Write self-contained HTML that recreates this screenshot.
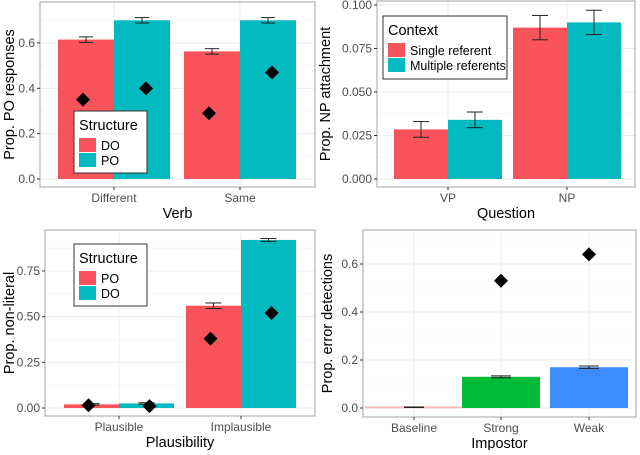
<!DOCTYPE html>
<html><head><meta charset="utf-8"><style>
body{margin:0;background:#fff;font-family:"Liberation Sans",sans-serif}
svg text{font-family:"Liberation Sans",sans-serif}
</style></head><body>
<svg id="c" width="640" height="450" xmlns="http://www.w3.org/2000/svg"></svg>
<script>
// Panel A data
const verbCats = ["Different","Same"];
const verbDO = [0.615,0.563];
const verbPO = [0.700,0.700];
const verbDOerr = [0.012,0.012];
const verbPOerr = [0.012,0.012];
const verbDOdia = [0.35,0.29];
const verbPOdia = [0.40,0.47];
const verbTicks = [0,0.2,0.4,0.6];
const verbTickLabels = ["0.0","0.2","0.4","0.6"];
// Panel B data
const qCats = ["VP","NP"];
const qSingle = [0.0285,0.087];
const qMulti = [0.034,0.090];
const qSingleErr = [0.0045,0.007];
const qMultiErr = [0.0045,0.007];
const qTicks = [0,0.025,0.05,0.075,0.1];
const qTickLabels = ["0.000","0.025","0.050","0.075","0.100"];
// Panel C data
const plCats = ["Plausible","Implausible"];
const plPO = [0.02,0.56];
const plDO = [0.025,0.92];
const plPOerr = [0.004,0.015];
const plDOerr = [0.004,0.008];
const plPOdia = [0.015,0.38];
const plDOdia = [0.01,0.52];
const plTicks = [0,0.25,0.5,0.75];
const plTickLabels = ["0.00","0.25","0.50","0.75"];
// Panel D data
const impCats = ["Baseline","Strong","Weak"];
const impVals = [0.003,0.13,0.17];
const impErr = [0.001,0.004,0.005];
const impDia = [null,0.53,0.64];
const impTicks = [0,0.2,0.4,0.6];
const impTickLabels = ["0.0","0.2","0.4","0.6"];

const RED="#F8535A", TEAL="#00BAC0";
const svg=document.getElementById('c');
const NS="http://www.w3.org/2000/svg";
function el(tag,attrs,parent,text){const e=document.createElementNS(NS,tag);for(const k in attrs)e.setAttribute(k,attrs[k]);if(text!==undefined)e.textContent=text;(parent||svg).appendChild(e);return e;}

function panel(p){
  const g=el('g',{});
  
  
  const ys=v=>p.y0-(v-0)*(p.y0-p.y1)/p.v1;
  for(let i=0;i<p.ticks.length;i++){
    const t=p.ticks[i];
    const m=t+(p.ticks[1]-p.ticks[0])/2;const ym=ys(m);if(ym>p.top)el('line',{x1:p.left,x2:p.right,y1:ym,y2:ym,stroke:'#f2f2f2','stroke-width':0.6},g);
    el('line',{x1:p.left,x2:p.right,y1:ys(t),y2:ys(t),stroke:'#ebebeb','stroke-width':1},g);
  }
  p.centers.forEach(cx=>el('line',{x1:cx,x2:cx,y1:p.top,y2:p.bottom,stroke:'#ebebeb','stroke-width':1},g));
  return {g,ys};
}
function axes(p,g,ys){
  el('rect',{x:p.left,y:p.top,width:p.right-p.left,height:p.bottom-p.top,fill:'none',stroke:'#b3b3b3','stroke-width':1.2},g);
  p.ticks.forEach((t,i)=>{
    const y=ys(t);
    el('line',{x1:p.left-3,x2:p.left,y1:y,y2:y,stroke:'#333','stroke-width':1},g);
    const tx=el('text',{x:p.left-5,y:y+4,'text-anchor':'end','font-size':12,fill:'#4d4d4d'},g,p.tickLabels[i]);
    
    
  });
  p.cats.forEach((c,i)=>{
    const x=p.centers[i];
    el('line',{x1:x,x2:x,y1:p.bottom,y2:p.bottom+3,stroke:'#333','stroke-width':1},g);
    const tx=el('text',{x:x,y:p.bottom+15,'text-anchor':'middle','font-size':12,fill:'#4d4d4d'},g,c);
    
    
  });
  const xt=el('text',{x:(p.left+p.right)/2,y:p.bottom+31,'text-anchor':'middle','font-size':14.5,fill:'#000'},g,p.xtitle);
  
  
  const cy=(p.top+p.bottom)/2;
  const yt=el('text',{x:p.ytx,y:cy,'text-anchor':'middle','font-size':14.5,fill:'#000',transform:`rotate(-90 ${p.ytx} ${cy})`},g,p.ytitle);
  
  
}
function bar(g,ys,x,w,v,fill,name){
  const r=el('rect',{x:x,y:ys(v),width:w,height:ys(0)-ys(v),fill:fill},g);
  
  
}
function err(g,ys,cx,v,e,hw,col){
  const a=ys(v+e),b=ys(v-e);
  el('line',{x1:cx,x2:cx,y1:a,y2:b,stroke:col||'#222','stroke-width':1},g);
  el('line',{x1:cx-hw,x2:cx+hw,y1:a,y2:a,stroke:col||'#222','stroke-width':1},g);
  el('line',{x1:cx-hw,x2:cx+hw,y1:b,y2:b,stroke:col||'#222','stroke-width':1},g);
}
function dia(g,ys,cx,v){
  const y=ys(v),s=7;
  const d=el('polygon',{points:`${cx},${y-s} ${cx+s},${y} ${cx},${y+s} ${cx-s},${y}`,fill:'#000'},g);
  
  
}
function legend(x,y,w,h,title,labels,cols,name){
  const g=el('g',{});
  
  
  el('rect',{x:x,y:y,width:w,height:h,fill:'#fff',stroke:'#333','stroke-width':1},g);
  el('text',{x:x+5,y:y+19,'font-size':14.5,fill:'#000'},g,title);
  labels.forEach((l,i)=>{
    el('rect',{x:x+5,y:y+27+i*15,width:17,height:14,fill:cols[i]},g);
    const t=el('text',{x:x+27,y:y+39+i*15,'font-size':12.5,fill:'#000'},g,l);
    
    
  });
}

(function(){
  const p={name:'verb-panel',left:40,right:315,top:2,bottom:187,y0:179,y1:43,v1:0.6,ticks:verbTicks,tickLabels:verbTickLabels,cats:verbCats,centers:[114,240],xtitle:'Verb',ytitle:'Prop. PO responses',ytx:14};
  const {g,ys}=panel(p);
  const w=56;
  verbCats.forEach((c,i)=>{
    const cx=p.centers[i];
    bar(g,ys,cx-w,w,verbDO[i],RED,'bar-do-'+c.toLowerCase());
    bar(g,ys,cx,w,verbPO[i],TEAL,'bar-po-'+c.toLowerCase());
    err(g,ys,cx-w/2,verbDO[i],verbDOerr[i],7);
    err(g,ys,cx+w/2,verbPO[i],verbPOerr[i],7);
    dia(g,ys,cx-w/2-3,verbDOdia[i]);
    dia(g,ys,cx+w/2+4,verbPOdia[i]);
  });
  axes(p,g,ys);
  legend(74,111,73,62,'Structure',['DO','PO'],[RED,TEAL],'verb-legend');
})();
(function(){
  const p={name:'question-panel',left:377,right:635,top:1,bottom:187,y0:179,y1:5,v1:0.1,ticks:qTicks,tickLabels:qTickLabels,cats:qCats,centers:[448,567],xtitle:'Question',ytitle:'Prop. NP attachment',ytx:330};
  const {g,ys}=panel(p);
  const w=54;
  qCats.forEach((c,i)=>{
    const cx=p.centers[i];
    bar(g,ys,cx-w,w,qSingle[i],RED,'bar-single-'+c.toLowerCase());
    bar(g,ys,cx,w,qMulti[i],TEAL,'bar-multiple-'+c.toLowerCase());
    err(g,ys,cx-w/2,qSingle[i],qSingleErr[i],8);
    err(g,ys,cx+w/2,qMulti[i],qMultiErr[i],8);
  });
  axes(p,g,ys);
  legend(383,16,124,63,'Context',['Single referent','Multiple referents'],[RED,TEAL],'context-legend');
})();
(function(){
  const p={name:'plausibility-panel',left:45,right:315,top:230,bottom:416,y0:408,y1:271,v1:0.75,ticks:plTicks,tickLabels:plTickLabels,cats:plCats,centers:[119,241],xtitle:'Plausibility',ytitle:'Prop. non-literal',ytx:14};
  const {g,ys}=panel(p);
  const w=55;
  plCats.forEach((c,i)=>{
    const cx=p.centers[i];
    bar(g,ys,cx-w,w,plPO[i],RED,'bar-po-'+c.toLowerCase());
    bar(g,ys,cx,w,plDO[i],TEAL,'bar-do-'+c.toLowerCase());
    err(g,ys,cx-w/2,plPO[i],plPOerr[i],8);
    err(g,ys,cx+w/2,plDO[i],plDOerr[i],8);
    dia(g,ys,cx-w/2-3,plPOdia[i]);
    dia(g,ys,cx+w/2+3,plDOdia[i]);
  });
  axes(p,g,ys);
  legend(74,244,73,62,'Structure',['PO','DO'],[RED,TEAL],'plausibility-legend');
})();
(function(){
  const p={name:'impostor-panel',left:363,right:636,top:230,bottom:417,y0:408,y1:360,v1:0.2,ticks:impTicks,tickLabels:impTickLabels,cats:impCats,centers:[414,501,589],xtitle:'Impostor',ytitle:'Prop. error detections',ytx:332};
  const {g,ys}=panel(p);
  const w=78, cols=['#F8A5A5','#00BA38','#3D8BFF'];
  impCats.forEach((c,i)=>{
    const cx=p.centers[i];
    bar(g,ys,cx-w/2,w,impVals[i],cols[i],'bar-'+c.toLowerCase());
    if(i===0) el('rect',{x:cx-w/2-10,y:ys(impVals[i])-1,width:w+20,height:2,fill:'#F8C0C0'},g);
    err(g,ys,cx,impVals[i],impErr[i],10);
    if(impDia[i]!==null) dia(g,ys,cx,impDia[i]);
  });
  axes(p,g,ys);
})();
</script>
</body></html>
